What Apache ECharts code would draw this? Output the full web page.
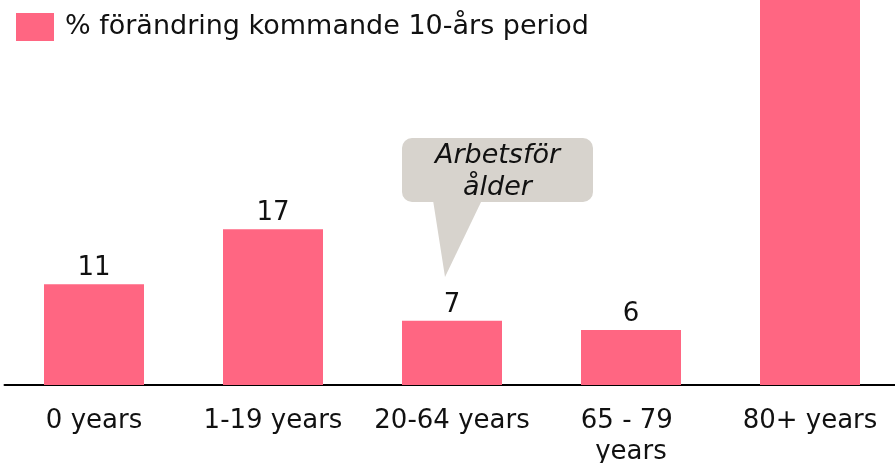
<!DOCTYPE html>
<html>
<head>
<meta charset="utf-8">
<script src="https://cdn.jsdelivr.net/npm/echarts@6/dist/echarts.min.js"></script>
<style>
  html, body { margin: 0; padding: 0; background: #fff; }
  #chart { width: 895px; height: 463px; }
</style>
</head>
<body>
<div id="chart"></div>
<script>
const categories = ['0 years', '1-19 years', '20-64 years', '65 - 79 years', '80+ years'];
const change = [11, 17, 7, 6, 50]; // 80+ runs off the top in the original
const seriesName = '% förändring kommande 10-års period';
const calloutText = 'Arbetsför\nålder';

const font = 'DejaVu Sans';
const pink = '#FF6682';

const chart = echarts.init(document.getElementById('chart'));

const data = change.map((v, i) =>
  i === change.length - 1 ? { value: v, label: { show: false } } : v
);

chart.setOption({
  animation: false,
  textStyle: { fontFamily: font },
  legend: {
    left: 16,
    top: 13,
    padding: 0,
    itemWidth: 38,
    itemHeight: 28,
    icon: 'rect',
    textStyle: { fontSize: 27, color: '#111', fontFamily: font, padding: [0, 0, 0, 6] },
    data: [seriesName]
  },
  grid: { left: 4.5, right: -4.5, top: 0, bottom: 78, containLabel: false, outerBoundsMode: 'none' },
  xAxis: {
    type: 'category',
    data: categories,
    axisLine: { lineStyle: { color: '#000', width: 2 } },
    axisTick: { show: false },
    axisLabel: {
      interval: 0,
      margin: 21,
      fontSize: 26,
      lineHeight: 31,
      color: '#111',
      fontFamily: font,
      width: 170,
      overflow: 'break'
    }
  },
  yAxis: {
    type: 'value',
    min: 0,
    max: 42,
    show: false,
    splitLine: { show: false }
  },
  series: [{
    name: seriesName,
    type: 'bar',
    data: data,
    barWidth: 100,
    clip: true,
    itemStyle: { color: pink },
    label: {
      show: true,
      position: 'top',
      distance: 3,
      fontSize: 26,
      color: '#111',
      fontFamily: font
    }
  }],
  graphic: [{
    type: 'group',
    children: [
      {
        type: 'polygon',
        shape: { points: [[433, 200], [482, 200], [445, 277]] },
        style: { fill: '#D7D3CD' }
      },
      {
        type: 'rect',
        shape: { x: 402, y: 138, width: 191, height: 64, r: 10 },
        style: { fill: '#D7D3CD' }
      },
      {
        type: 'text',
        style: {
          text: calloutText,
          x: 497.5,
          y: 172,
          align: 'center',
          verticalAlign: 'middle',
          font: 'italic 27px "DejaVu Sans"',
          lineHeight: 32,
          fill: '#111'
        }
      }
    ]
  }]
});
</script>
</body>
</html>
